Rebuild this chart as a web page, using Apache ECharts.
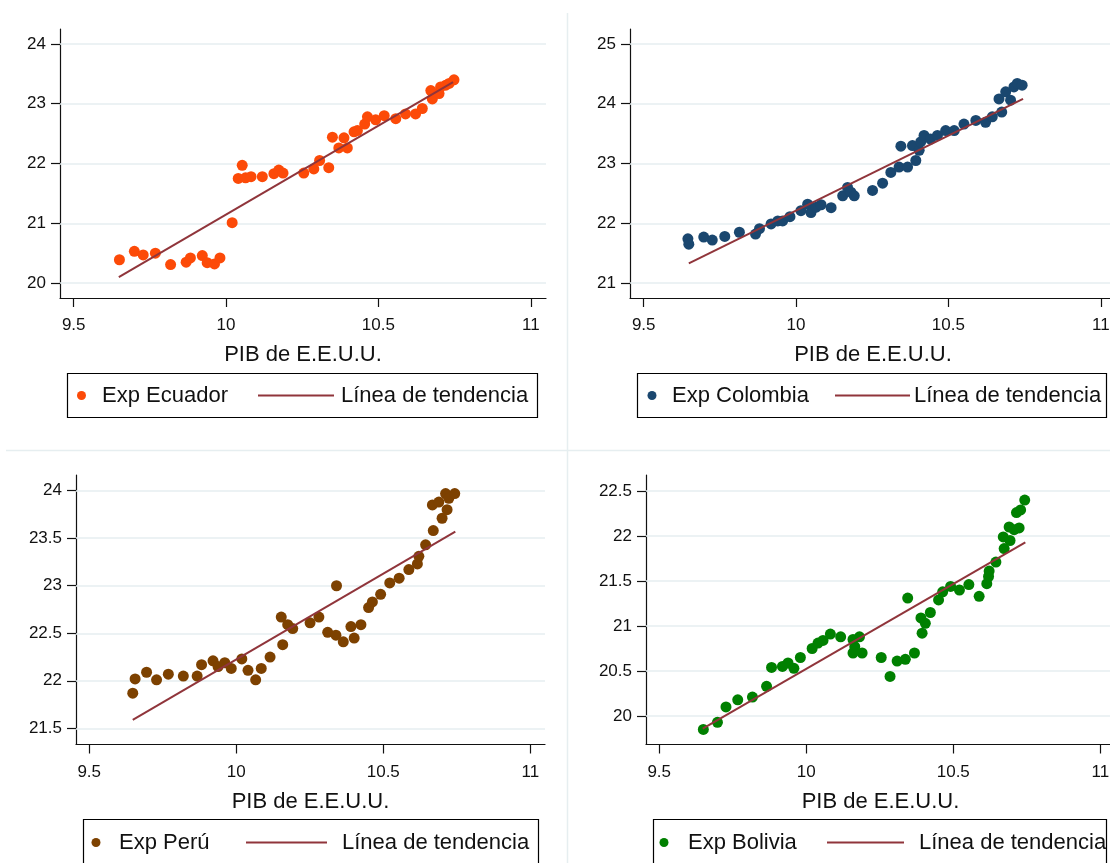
<!DOCTYPE html>
<html><head><meta charset="utf-8">
<script src="https://cdn.jsdelivr.net/npm/echarts@6/dist/echarts.min.js"></script>
<style>html,body{margin:0;padding:0;background:#fff}#c{width:1110px;height:863px}</style>
</head><body><div id="c"></div>
<script>
// ---------- data ----------
const xTicks = [9.5, 10, 10.5, 11];
const trendX = [9.648, 10.745];
const xTitle = 'PIB de E.E.U.U.';
const trendName = 'Línea de tendencia';

const ecuadorX = [9.650, 9.699, 9.728, 9.768, 9.818, 9.869, 9.883, 9.922, 9.938, 9.962, 9.980, 10.020, 10.040, 10.053, 10.064, 10.082, 10.119, 10.157, 10.173, 10.187, 10.255, 10.288, 10.307, 10.337, 10.349, 10.370, 10.387, 10.398, 10.420, 10.431, 10.455, 10.464, 10.491, 10.519, 10.557, 10.589, 10.622, 10.644, 10.672, 10.677, 10.699, 10.704, 10.721, 10.732, 10.748];
const ecuadorY = [20.39, 20.53, 20.47, 20.50, 20.31, 20.35, 20.42, 20.46, 20.34, 20.32, 20.42, 21.01, 21.75, 21.97, 21.76, 21.78, 21.78, 21.83, 21.89, 21.84, 21.84, 21.91, 22.05, 21.93, 22.44, 22.26, 22.43, 22.26, 22.53, 22.55, 22.66, 22.78, 22.73, 22.80, 22.75, 22.83, 22.83, 22.92, 23.22, 23.08, 23.17, 23.28, 23.31, 23.34, 23.40];
const ecuadorTrend = [20.10, 23.36];
const ecuadorTicks = [20, 21, 22, 23, 24];

const colombiaX = [9.645, 9.648, 9.697, 9.725, 9.766, 9.814, 9.867, 9.880, 9.918, 9.940, 9.956, 9.980, 10.016, 10.038, 10.049, 10.066, 10.082, 10.115, 10.153, 10.169, 10.180, 10.191, 10.251, 10.284, 10.311, 10.338, 10.344, 10.366, 10.382, 10.393, 10.404, 10.409, 10.420, 10.441, 10.464, 10.491, 10.519, 10.551, 10.590, 10.622, 10.644, 10.666, 10.675, 10.688, 10.704, 10.715, 10.726, 10.742];
const colombiaY = [21.74, 21.65, 21.77, 21.72, 21.78, 21.85, 21.82, 21.91, 21.99, 22.04, 22.04, 22.11, 22.21, 22.32, 22.18, 22.27, 22.31, 22.26, 22.46, 22.60, 22.52, 22.46, 22.55, 22.67, 22.85, 22.94, 23.29, 22.94, 23.30, 23.05, 23.22, 23.36, 23.47, 23.41, 23.47, 23.55, 23.55, 23.66, 23.72, 23.69, 23.78, 24.08, 23.86, 24.20, 24.06, 24.28, 24.34, 24.31];
const colombiaTrend = [21.33, 24.08];
const colombiaTicks = [21, 22, 23, 24, 25];

const peruX = [9.648, 9.656, 9.695, 9.729, 9.769, 9.820, 9.867, 9.882, 9.921, 9.938, 9.961, 9.983, 10.019, 10.040, 10.066, 10.085, 10.115, 10.158, 10.153, 10.175, 10.192, 10.251, 10.281, 10.311, 10.339, 10.341, 10.364, 10.390, 10.401, 10.424, 10.450, 10.463, 10.491, 10.522, 10.554, 10.587, 10.616, 10.621, 10.644, 10.670, 10.667, 10.689, 10.700, 10.717, 10.712, 10.723, 10.743];
const peruY = [21.87, 22.02, 22.09, 22.01, 22.07, 22.05, 22.05, 22.17, 22.21, 22.15, 22.19, 22.13, 22.23, 22.11, 22.01, 22.13, 22.25, 22.38, 22.67, 22.59, 22.55, 22.61, 22.67, 22.51, 22.48, 23.00, 22.41, 22.57, 22.45, 22.59, 22.77, 22.83, 22.91, 23.03, 23.08, 23.17, 23.23, 23.31, 23.43, 23.58, 23.85, 23.88, 23.71, 23.80, 23.97, 23.92, 23.97];
const peruTrend = [21.59, 23.57];
const peruTicks = [21.5, 22, 22.5, 23, 23.5, 24];

const boliviaX = [9.650, 9.698, 9.727, 9.767, 9.817, 9.865, 9.882, 9.919, 9.938, 9.958, 9.980, 10.020, 10.040, 10.057, 10.082, 10.117, 10.159, 10.181, 10.165, 10.159, 10.190, 10.255, 10.285, 10.309, 10.337, 10.368, 10.345, 10.394, 10.390, 10.405, 10.422, 10.450, 10.464, 10.491, 10.521, 10.553, 10.588, 10.614, 10.620, 10.622, 10.645, 10.673, 10.670, 10.693, 10.690, 10.707, 10.724, 10.715, 10.729, 10.743];
const boliviaY = [19.85, 19.93, 20.10, 20.18, 20.21, 20.33, 20.54, 20.55, 20.59, 20.53, 20.65, 20.75, 20.81, 20.84, 20.91, 20.88, 20.85, 20.88, 20.77, 20.70, 20.70, 20.65, 20.44, 20.61, 20.63, 20.70, 21.31, 20.92, 21.09, 21.03, 21.15, 21.29, 21.38, 21.44, 21.40, 21.46, 21.33, 21.47, 21.55, 21.61, 21.71, 21.86, 21.99, 21.95, 22.10, 22.07, 22.09, 22.26, 22.29, 22.40];
const boliviaTrend = [19.86, 21.93];
const boliviaTicks = [20, 20.5, 21, 21.5, 22, 22.5];

// ---------- layout / style ----------
const FONT = '"Liberation Sans", Arial, Helvetica, sans-serif';
const TREND_COLOR = '#90353B';
const GRID_COLOR = '#e6eef0';
const AXIS_COLOR = '#111';
const X_MIN = 9.455, X_MAX = 11.05;

const panels = [
  {name: 'Exp Ecuador', xs: ecuadorX, ys: ecuadorY, trend: ecuadorTrend, ticks: ecuadorTicks, color: '#FC4A08',
   ymin: 19.75, ymax: 24.25, grid: {left: 60, top: 29, width: 486, height: 269},
   lg: {x: 67, y: 373, w: 470, h: 44, cy: 395.5, mx: 81.5, tx: 102, l1: 258, l2: 334, t2: 341}},
  {name: 'Exp Colombia', xs: colombiaX, ys: colombiaY, trend: colombiaTrend, ticks: colombiaTicks, color: '#1A476F',
   ymin: 20.75, ymax: 25.25, grid: {left: 630, top: 29, width: 486, height: 269},
   lg: {x: 637, y: 373, w: 469, h: 44, cy: 395.5, mx: 652, tx: 672, l1: 835, l2: 910, t2: 914}},
  {name: 'Exp Perú', xs: peruX, ys: peruY, trend: peruTrend, ticks: peruTicks, color: '#7D4100',
   ymin: 21.33, ymax: 24.165, grid: {left: 76, top: 475, width: 469, height: 269.5},
   lg: {x: 83, y: 819, w: 455, h: 60, cy: 842.5, mx: 96, tx: 119, l1: 246, l2: 327, t2: 342}},
  {name: 'Exp Bolivia', xs: boliviaX, ys: boliviaY, trend: boliviaTrend, ticks: boliviaTicks, color: '#008000',
   ymin: 19.683, ymax: 22.678, grid: {left: 646, top: 475, width: 469, height: 269.5},
   lg: {x: 653, y: 819, w: 453, h: 60, cy: 842.5, mx: 664, tx: 688, l1: 827, l2: 904, t2: 919}}
];

const grids = [], xAxes = [], yAxes = [], series = [], graphics = [];

// panel separators
graphics.push({type: 'line', shape: {x1: 567.5, y1: 13, x2: 567.5, y2: 863}, style: {stroke: GRID_COLOR, lineWidth: 1.5}, z: 0});
graphics.push({type: 'line', shape: {x1: 6, y1: 450.5, x2: 1110, y2: 450.5}, style: {stroke: GRID_COLOR, lineWidth: 1.5}, z: 0});

panels.forEach((p, i) => {
  grids.push(Object.assign({outerBoundsMode: 'none', containLabel: false}, p.grid));
  xAxes.push({
    gridIndex: i, type: 'value', min: X_MIN, max: X_MAX,
    axisLine: {show: true, onZero: false, lineStyle: {color: AXIS_COLOR, width: 1.2}},
    axisTick: {show: true, length: 9, customValues: xTicks, lineStyle: {color: AXIS_COLOR, width: 1.2}},
    axisLabel: {customValues: xTicks, margin: 19, fontSize: 17, color: '#111', fontFamily: FONT},
    splitLine: {show: false},
    name: xTitle, nameLocation: 'middle', nameGap: 46,
    nameTextStyle: {fontSize: 22, color: '#111', fontFamily: FONT}
  });
  yAxes.push({
    gridIndex: i, type: 'value', min: p.ymin, max: p.ymax,
    axisLine: {show: true, onZero: false, lineStyle: {color: AXIS_COLOR, width: 1.2}},
    axisTick: {show: true, length: 9, customValues: p.ticks, lineStyle: {color: AXIS_COLOR, width: 1.2}},
    axisLabel: {customValues: p.ticks, margin: 14, fontSize: 17, color: '#111', fontFamily: FONT},
    splitLine: {show: false}
  });
  series.push({
    type: 'scatter', name: p.name, xAxisIndex: i, yAxisIndex: i,
    data: p.xs.map((x, j) => [x, p.ys[j]]),
    symbol: 'circle', symbolSize: 11, itemStyle: {color: p.color, opacity: 1}, z: 3,
    markLine: {
      silent: true, symbol: ['none', 'none'], label: {show: false}, z: 1, animation: false,
      lineStyle: {color: GRID_COLOR, width: 1.5, type: 'solid'},
      emphasis: {disabled: true},
      data: p.ticks.map(v => ({yAxis: v}))
    }
  });
  series.push({
    type: 'line', name: trendName, xAxisIndex: i, yAxisIndex: i,
    data: trendX.map((x, j) => [x, p.trend[j]]),
    symbol: 'none', lineStyle: {color: TREND_COLOR, width: 2}, itemStyle: {color: TREND_COLOR}, z: 4
  });
  const L = p.lg;
  graphics.push(
    {type: 'rect', shape: {x: L.x + 0.5, y: L.y + 0.5, width: L.w, height: L.h}, style: {fill: '#fff', stroke: '#000', lineWidth: 1.2}, z: 10},
    {type: 'circle', shape: {cx: L.mx, cy: L.cy, r: 4.5}, style: {fill: p.color}, z: 11},
    {type: 'text', x: L.tx, y: L.cy, style: {text: p.name, font: '22px ' + FONT, fill: '#111', verticalAlign: 'middle', align: 'left'}, z: 11},
    {type: 'line', shape: {x1: L.l1, y1: L.cy, x2: L.l2, y2: L.cy}, style: {stroke: TREND_COLOR, lineWidth: 2}, z: 11},
    {type: 'text', x: L.t2, y: L.cy, style: {text: trendName, font: '22px ' + FONT, fill: '#111', verticalAlign: 'middle', align: 'left'}, z: 11}
  );
});

const chart = echarts.init(document.getElementById('c'), null, {renderer: 'canvas'});
chart.setOption({
  animation: false,
  backgroundColor: '#fff',
  textStyle: {fontFamily: FONT},
  grid: grids, xAxis: xAxes, yAxis: yAxes, series: series,
  graphic: graphics
});
</script></body></html>
